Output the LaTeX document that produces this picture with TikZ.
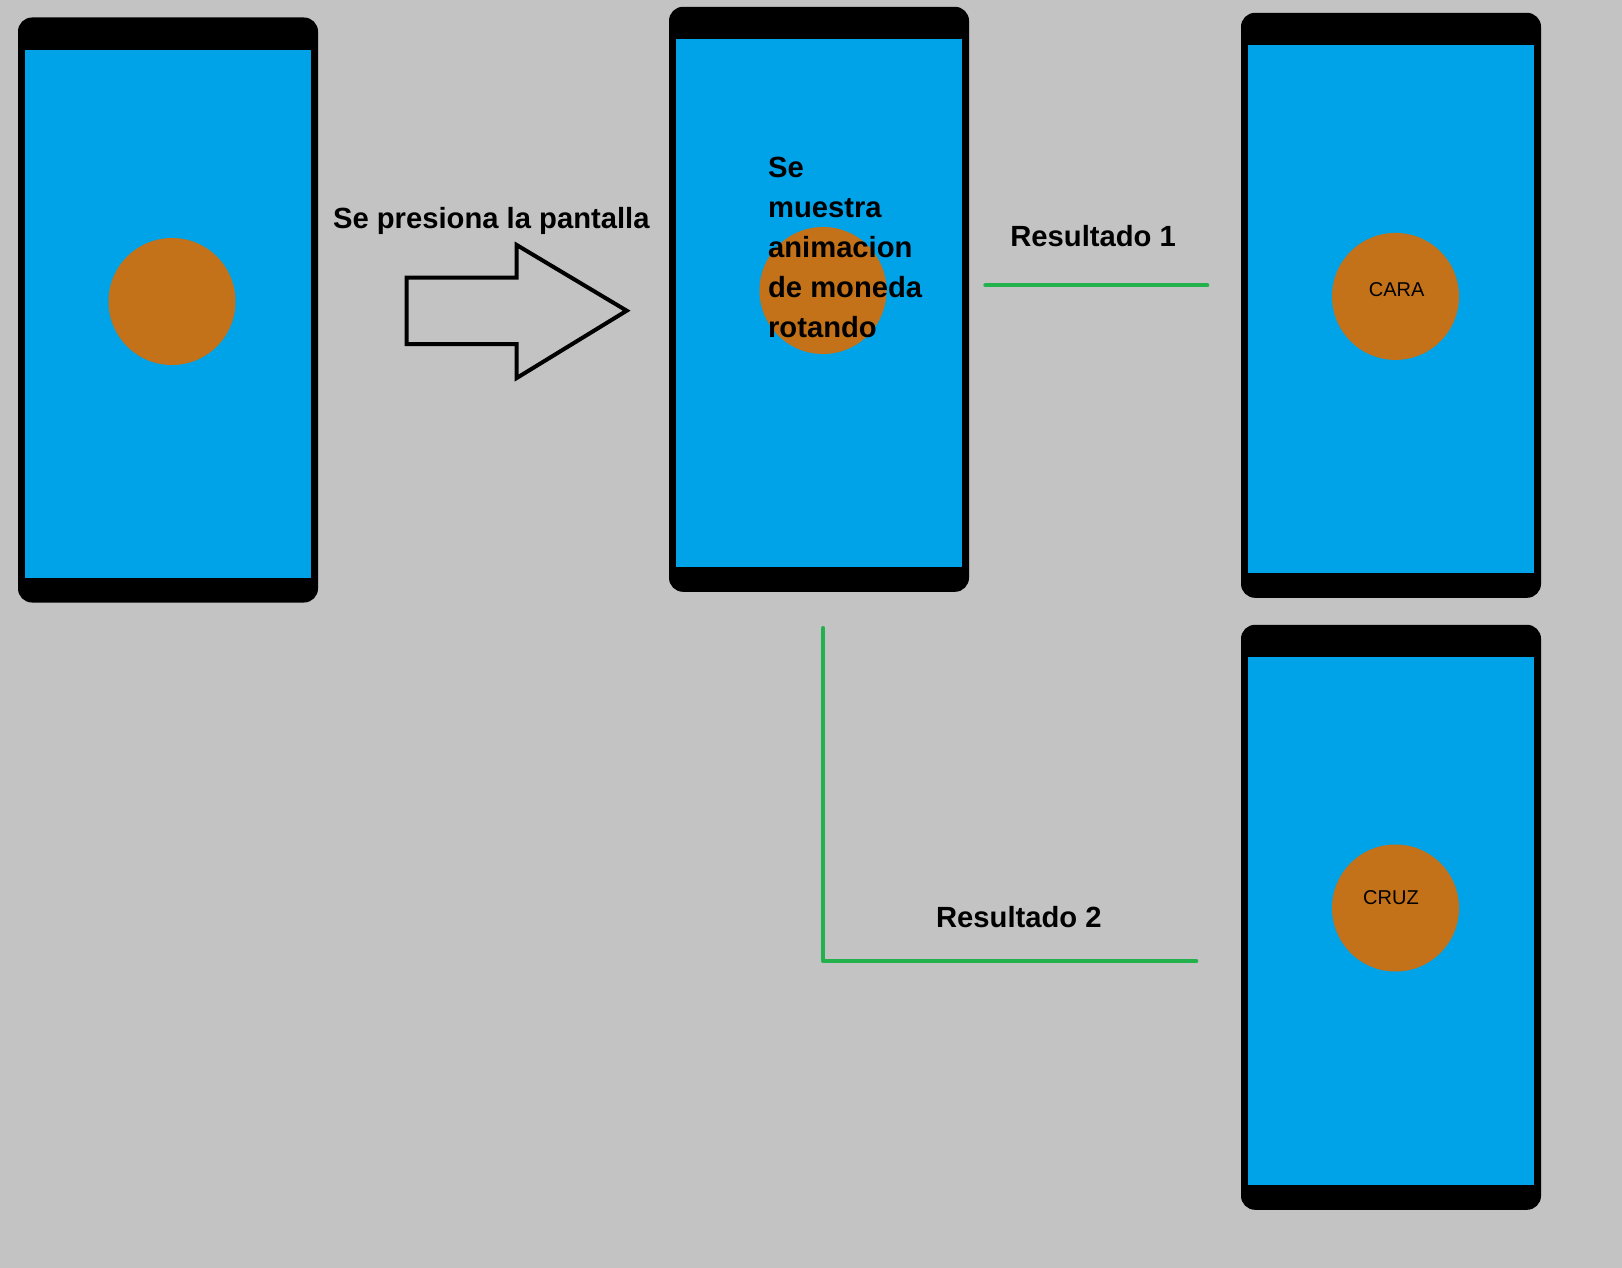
\documentclass[tikz,border=0pt]{standalone}
\usepackage{fontspec}
\setmainfont{Liberation Sans}
\usetikzlibrary{positioning}
\definecolor{fondo}{HTML}{C3C3C3}
\definecolor{azulpantalla}{HTML}{00A2E8}
\definecolor{colormoneda}{HTML}{C47219}
\definecolor{verde}{HTML}{22B14C}
\tikzset{
	movil/.style={fill=black, rounded corners=7pt, minimum width=150pt, minimum height=292.5pt, inner sep=0},
	pantalla/.style={fill=azulpantalla, minimum width=143pt, minimum height=264pt, inner sep=0},
	moneda/.style={circle, fill=colormoneda, minimum size=63.5pt, inner sep=0},
	texto/.style={inner sep=0, font=\bfseries\fontsize{14.6pt}{20pt}\selectfont},
	textomoneda/.style={inner sep=0, font=\fontsize{10pt}{12pt}\selectfont},
	resultado/.style={verde, line width=2pt, line cap=round},
}
\begin{document}
\begin{tikzpicture}[x=0.5pt, y=-0.5pt]
			%fondo
			\fill[fondo] (0,0) rectangle (1622,1268);
			\useasboundingbox (0,0) rectangle (1622,1268);
			
			%moviles
			\foreach \n/\x/\y in {1/168/310, 2/819/299.3, 3/1391/305.3, 4/1391/917.3}{
				\node[movil] (movil\n) at (\x, \y){};
				\node[pantalla] (pantalla\n) at ([yshift=-1.9pt]movil\n.center){};
			}
			
			%monedas
			\node[moneda] (moneda1) at (172, 301.5){};
			\node[moneda] (moneda2) at (823, 290.5){};
			\node[moneda] (moneda3) at (1395.5, 296.4){};
			\node[moneda] (moneda4) at (1395.5, 908){};
			\node[textomoneda] (cara) at (1396.7, 290){CARA};
			\node[textomoneda] (cruz) at (1391, 898){CRUZ};
			
			%flecha
			\draw[line width=2pt, line join=miter] (406.7, 277.7) -- (516.7, 277.7) -- (516.7, 245) -- (626.7, 310.7)
				-- (516.7, 378) -- (516.7, 344) -- (406.7, 344) -- cycle;
			\node[texto, anchor=base west] (presiona) at (332.7, 228){Se presiona la pantalla};
			
			%animacion
			\node[texto, anchor=north west, align=left] (animacion) at (767.7, 157)
				{Se\\muestra\\animacion\\de moneda\\rotando};
			
			%resultados
			\coordinate (r1a) at (985.3, 285.3);
			\coordinate (r1b) at (1207.3, 285.3);
			\draw[resultado] (r1a) -- (r1b);
			\node[texto, anchor=base west] (resultado1) at (1010, 246.7){Resultado 1};
			
			\coordinate (r2a) at (823.3, 628);
			\coordinate (r2b) at (823.3, 961);
			\coordinate (r2c) at (1196.3, 961);
			\draw[resultado, line join=round] (r2a) -- (r2b) -- (r2c);
			\node[texto, anchor=base west] (resultado2) at (935.7, 927.3){Resultado 2};
		\end{tikzpicture}
\end{document}
